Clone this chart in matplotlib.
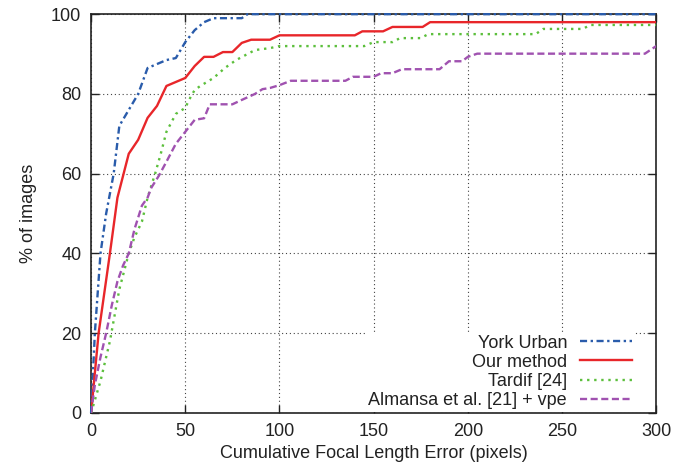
import matplotlib
matplotlib.use("Agg")
import matplotlib.pyplot as plt

plt.rcParams["font.family"] = ["Liberation Sans", "DejaVu Sans"]

# cumulative focal length error curves
york_x = [0, 2, 5, 8, 12, 15, 20, 25, 30, 35, 40, 45, 50, 55, 60, 65, 80, 83, 300]
york_y = [0, 20, 40, 50, 60, 72, 76, 80, 86.5, 87.5, 88.5, 89, 93, 96, 98, 99, 99, 100, 100]

ours_x = [0, 4, 7, 10, 14, 20, 25, 30, 35, 40, 50, 55, 60, 65, 70, 75, 80, 85,
          95, 100, 140, 144, 155, 160, 176, 180, 300]
ours_y = [0, 20, 30, 40, 54, 65, 68.5, 74, 77, 82, 84, 87, 89.3, 89.3, 90.5, 90.5,
          92.8, 93.6, 93.6, 94.7, 94.7, 95.7, 95.7, 96.8, 96.8, 98, 98]

tardif_x = [0, 5, 10, 15, 20, 23, 27, 30, 34, 37, 40, 45, 50, 52, 55, 58, 65, 71, 77,
            83, 87, 95, 100, 145, 150, 160, 164, 175, 179, 236, 240, 261, 265, 300]
tardif_y = [0, 8, 18, 31, 40, 44, 48, 54, 60, 65, 70.5, 75, 76.5, 78.5, 81, 82, 84,
            86.5, 88.5, 90, 91, 91.5, 92, 92, 93, 93, 94, 94, 95, 95, 96.3, 96.3, 97.3, 97.3]

almansa_x = [0, 2, 5, 8, 11, 14, 17, 20, 23, 27, 30, 32, 36, 40, 45, 50, 55, 60, 63,
             75, 80, 87, 91, 95, 100, 106, 135, 139, 150, 154, 160, 165, 185, 190, 197,
             200, 205, 294, 300]
almansa_y = [0, 7, 14, 20, 27, 33, 37, 40, 46, 52, 54, 56.5, 59.5, 63, 67.5, 70.5, 73.5,
             73.9, 77.4, 77.4, 78.5, 80, 81.2, 81.5, 82.2, 83.3, 83.3, 84.3, 84.3, 85.2,
             85.2, 86.2, 86.2, 88.2, 88.2, 89.3, 90.1, 90.1, 92]

x_ticks = [0, 50, 100, 150, 200, 250, 300]
y_ticks = [0, 20, 40, 60, 80, 100]

fig = plt.figure(figsize=(6.9, 4.73), dpi=100)
ax = fig.add_axes([0.132, 0.127, 0.819, 0.843])

ax.plot(york_x, york_y, color="#2a5cab", lw=1.7, dashes=(3, 1.5, 1, 1.5),
        label="York Urban", clip_on=False, zorder=3)
ax.plot(ours_x, ours_y, color="#e8262a", lw=1.7, label="Our method", zorder=3)
ax.plot(tardif_x, tardif_y, color="#5cbf3c", lw=1.7, dashes=(1, 2),
        label="Tardif [24]", zorder=3)
ax.plot(almansa_x, almansa_y, color="#a052b0", lw=1.7, dashes=(3, 1.5),
        label="Almansa et al. [21] + vpe", zorder=3)

ax.set_xlim(0, 300)
ax.set_ylim(0, 100)
ax.set_xticks(x_ticks)
ax.set_yticks(y_ticks)
ax.grid(True, color="#444444", lw=0.8, linestyle=(0, (1, 2.5)))
ax.set_axisbelow(True)
ax.tick_params(direction="in", top=True, right=True, length=6, width=1,
               labelsize=13, pad=7, colors="#222222")
for s in ax.spines.values():
    s.set_linewidth(1.2)
    s.set_color("#222222")

ax.set_xlabel("Cumulative Focal Length Error (pixels)", fontsize=13, color="#222222")
ax.set_ylabel("% of images", fontsize=13, color="#222222", labelpad=10)

leg = ax.legend(loc="lower right", bbox_to_anchor=(0.962, 0.003), markerfirst=False,
                fontsize=13, frameon=True, handlelength=2.9, handletextpad=0.7,
                labelspacing=0.12, borderaxespad=0, borderpad=0.15, fancybox=False)
leg.get_frame().set_edgecolor("none")
leg.get_frame().set_facecolor("white")
leg.get_frame().set_alpha(1)
for t in leg.get_texts():
    t.set_color("#222222")

fig.savefig("out.png", dpi=100)
